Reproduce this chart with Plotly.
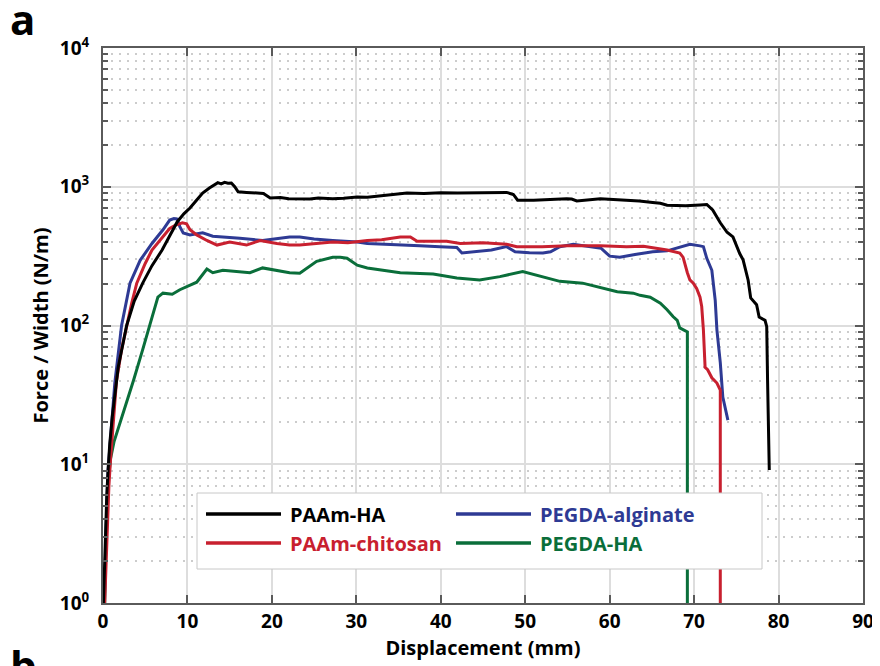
import plotly.graph_objects as go

# ---------------- data ----------------
x_paam_ha = [0.05, 0.2, 0.3, 0.45, 0.6, 0.8, 1.1, 1.4, 1.8, 2.8, 3.7, 4.7, 5.8, 7.0, 8.0, 8.8, 9.6, 10.3,
             11.0, 11.8, 12.6, 13.3, 13.6, 14.0, 14.4, 14.8, 15.2, 15.6, 16.0, 17.0, 18.0, 19.0, 19.8, 21.0,
             22.0, 23.3, 24.5, 25.5, 27.2, 28.5, 30.1, 31.3, 33.0, 35.2, 36.0, 38.0, 40.0, 42.0, 44.0, 46.2,
             47.8, 48.6, 49.1, 51.0, 53.0, 54.9, 55.5, 56.1, 58.9, 60.0, 62.0, 63.5, 65.1, 66.0, 66.8, 68.0,
             69.0, 70.7, 71.5, 72.2, 73.1, 73.9, 74.6, 75.4, 75.8, 76.4, 76.7, 77.4, 77.7, 78.4, 78.6, 78.7, 78.9]
y_paam_ha = [1, 2, 3.5, 6, 9, 14, 22, 32, 50, 100, 150, 202, 270, 350, 450, 560, 640, 703,
             790, 900, 980, 1040, 1070, 1050, 1075, 1060, 1065, 1000, 920, 910, 905, 895, 830, 835,
             820, 820, 815, 830, 820, 825, 845, 840, 860, 880, 900, 895, 905, 900, 905, 917,
             910, 880, 800, 800, 815, 820, 815, 790, 820, 815, 800, 790, 770, 760, 735, 735,
             730, 740, 745, 680, 550, 470, 435, 330, 297, 212, 158, 141, 115, 109, 98, 40, 9.1]

x_paam_chitosan = [0.2, 0.35, 0.5, 0.7, 0.9, 1.2, 1.6, 2.2, 2.8, 3.4, 4.0, 5.0, 5.8, 6.8, 7.9, 8.6, 9.4, 9.9,
                   10.3, 11.1, 12.3, 13.5, 15.0, 17.0, 18.6, 20.6, 22.1, 23.3, 25.0, 27.2, 29.0, 31.3, 33.0,
                   35.2, 36.4, 37.2, 39.0, 40.7, 42.3, 45.0, 47.8, 49.0, 52.0, 55.0, 58.9, 62.0, 64.0, 66.8,
                   68.3, 68.7, 69.2, 69.5, 69.9, 70.3, 70.7, 70.9, 71.1, 71.3, 71.6, 72.1, 72.7, 73.1, 73.1]
y_paam_chitosan = [1, 2, 4, 7, 11, 20, 40, 67, 100, 145, 202, 280, 350, 413, 500, 530, 550, 540,
                   490, 450, 410, 380, 400, 380, 410, 390, 380, 380, 390, 400, 395, 410, 415,
                   435, 435, 405, 405, 405, 390, 395, 385, 370, 370, 375, 375, 370, 372, 350,
                   333, 310, 240, 213, 202, 185, 160, 137, 93, 50, 48, 42, 38.5, 34.3, 1]

x_pegda_alginate = [0.15, 0.3, 0.45, 0.6, 0.8, 1.1, 1.4, 2.2, 3.2, 4.4, 5.8, 7.1, 7.9, 8.4, 8.8, 9.1, 9.5,
                    10.3, 11.0, 11.8, 13.0, 14.5, 16.2, 18.9, 20.5, 22.1, 23.3, 25.0, 27.2, 30.1, 31.3, 33.0,
                    35.2, 37.5, 39.9, 41.9, 42.5, 43.8, 46.0, 47.8, 48.8, 50.5, 52.1, 53.0, 54.1, 55.7, 58.0,
                    59.0, 60.0, 61.2, 63.0, 65.1, 66.8, 68.3, 69.5, 70.7, 71.1, 71.5, 72.1, 72.5, 72.7, 73.1,
                    73.4, 74.0]
y_pegda_alginate = [1, 2.5, 5, 9, 13, 25, 38.5, 100, 202, 295, 390, 490, 575, 590, 585, 515, 465,
                    450, 455, 465, 440, 435, 425, 410, 420, 435, 435, 420, 410, 400, 390, 385,
                    380, 375, 370, 365, 333, 340, 350, 370, 340, 335, 333, 340, 370, 385, 370,
                    360, 316, 310, 325, 340, 345, 365, 385, 375, 370, 305, 250, 152, 93, 54,
                    30.5, 20.8]

x_pegda_ha = [0.2, 0.3, 0.4, 0.6, 0.9, 1.3, 1.8, 2.3, 2.9, 3.6, 4.7, 5.8, 6.5, 7.1, 8.2, 9.1, 10.2, 11.1, 12.3,
              13.0, 14.2, 16.2, 17.4, 18.9, 20.6, 22.1, 23.3, 25.3, 27.2, 28.1, 28.9, 29.3, 30.1, 31.3, 34.3,
              35.2, 39.1, 41.9, 44.6, 47.0, 49.7, 50.9, 54.1, 56.8, 60.9, 62.8, 63.6, 64.8, 66.0, 66.8, 67.5,
              68.0, 68.3, 69.2, 69.2]
y_pegda_ha = [1, 2, 4, 7.5, 11, 14.5, 18, 23, 30, 40, 67, 116, 160, 171, 168, 181, 195, 205, 255,
              240, 250, 245, 240, 260, 248, 240, 238, 290, 310, 310, 305, 295, 272, 260, 245,
              240, 235, 220, 213, 225, 245, 235, 208, 202, 175, 171, 165, 160, 145, 130, 116,
              109, 96, 90, 1]

names = ["PAAm-HA", "PAAm-chitosan", "PEGDA-alginate", "PEGDA-HA"]
colors = ["#000000", "#c8202f", "#2e3a94", "#0a6e3a"]
xs = [x_paam_ha, x_paam_chitosan, x_pegda_alginate, x_pegda_ha]
ys = [y_paam_ha, y_paam_chitosan, y_pegda_alginate, y_pegda_ha]

x_ticks = [0, 10, 20, 30, 40, 50, 60, 70, 80, 90]
y_ticks = [1, 10, 100, 1000, 10000]
y_ticktext = ["10<sup>0</sup>", "10<sup>1</sup>", "10<sup>2</sup>", "10<sup>3</sup>", "10<sup>4</sup>"]
y_minor = [m * 10 ** k for k in range(4) for m in range(2, 10)]

FONT = "Open Sans"
OFF = 8  # browser body margin offset of the plot div

fig = go.Figure()
order = [3, 2, 1, 0]
for i in order:
    fig.add_trace(go.Scatter(x=xs[i], y=ys[i], mode="lines", name=names[i],
                             line=dict(color=colors[i], width=3), showlegend=False))

axis_col = "#5a5a5a"
fig.update_layout(
    width=880 - OFF, height=666 - OFF,
    margin=dict(l=103 - OFF, r=17, t=48 - OFF, b=63),
    paper_bgcolor="white", plot_bgcolor="white",
    font=dict(family=FONT, color="black"),
    xaxis=dict(range=[0, 90], tickvals=x_ticks, ticks="inside", ticklen=8, tickwidth=2,
               tickcolor=axis_col, showline=True, linecolor=axis_col, linewidth=2, mirror="allticks",
               showgrid=True, gridcolor="#dddddd", gridwidth=2, zeroline=False, automargin=False,
               tickfont=dict(family=FONT, size=19, color="black", weight="bold"),
               ticklabelstandoff=0,
               title=dict(text="<b>Displacement (mm)</b>", font=dict(family=FONT, size=20, color="black"),
                          standoff=2)),
    yaxis=dict(type="log", range=[0, 4], tickvals=y_ticks, ticktext=y_ticktext, ticks="inside",
               ticklen=8, tickwidth=2, tickcolor=axis_col, showline=True, linecolor=axis_col, linewidth=2,
               mirror="allticks", showgrid=True, gridcolor="#dddddd", gridwidth=2, zeroline=False,
               automargin=False,
               tickfont=dict(family=FONT, size=19, color="black", weight="bold"),
               ticklabelstandoff=8,
               minor=dict(tickmode="array", tickvals=y_minor, ticks="inside", ticklen=5, tickwidth=1.5,
                          tickcolor=axis_col, showgrid=True, gridcolor="#cccccc", gridwidth=2,
                          griddash="2px,6px"),
               title=dict(text="<b>Force / Width (N/m)</b>", font=dict(family=FONT, size=20, color="black"),
                          standoff=6)),
)

# ---- manual legend (box, sample lines, coloured labels); positions in page pixels ----
def px2x(p):
    return (p - 103) / 760.0

def px2y(p):
    return (603 - p) / 555.0

shapes = [dict(type="rect", xref="paper", yref="paper", x0=px2x(197), x1=px2x(762), y0=px2y(569), y1=px2y(493),
               fillcolor="white", line=dict(color="#c8c8c8", width=1), layer="above")]
leg_pos = [(206, 514), (206, 543), (456, 514), (456, 543)]
annots = []
for i in range(4):
    lx, ly = leg_pos[i]
    shapes.append(dict(type="line", xref="paper", yref="paper", x0=px2x(lx), x1=px2x(lx + 75),
                       y0=px2y(ly), y1=px2y(ly), line=dict(color=colors[i], width=3.5), layer="above"))
    annots.append(dict(xref="paper", yref="paper", x=px2x(lx + 82), y=px2y(ly), xanchor="left",
                       yanchor="middle", showarrow=False, text="<b>%s</b>" % names[i],
                       font=dict(family=FONT, size=20, color=colors[i])))

annots.append(dict(xref="paper", yref="paper", x=px2x(8), y=px2y(18), xanchor="left", yanchor="middle",
                   showarrow=False, text="<b>a</b>", font=dict(family=FONT, size=42, color="black")))
annots.append(dict(xref="paper", yref="paper", x=px2x(8), y=px2y(664), xanchor="left", yanchor="middle",
                   showarrow=False, text="<b>b</b>", font=dict(family=FONT, size=42, color="black")))

fig.update_layout(shapes=shapes, annotations=annots)

fig.write_html("out.html")
